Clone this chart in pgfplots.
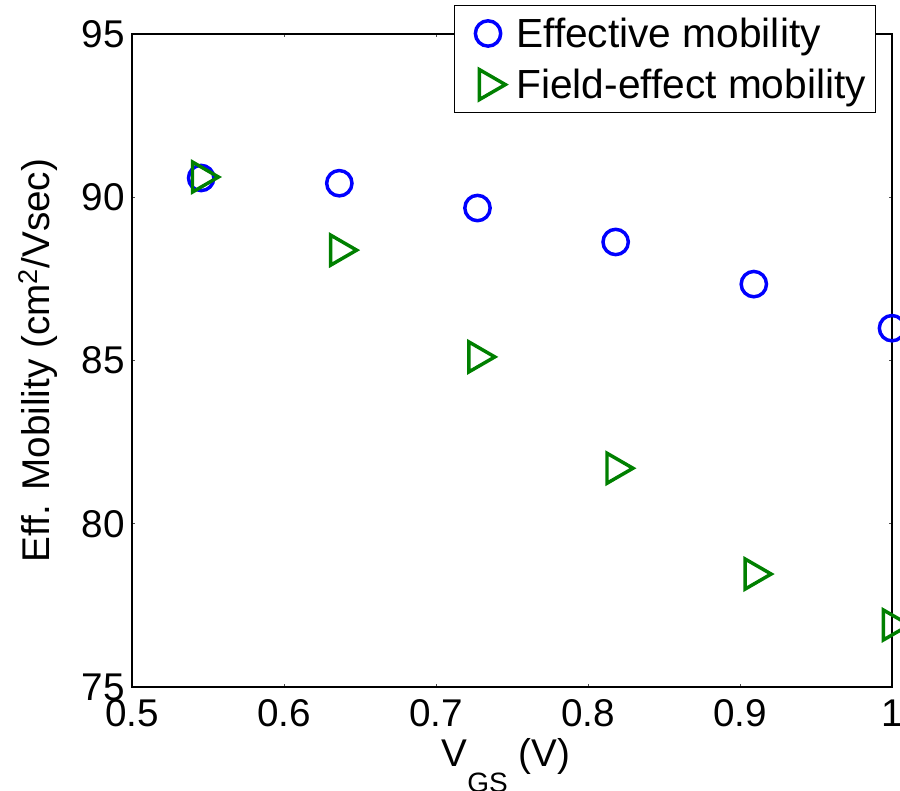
\documentclass[border=0pt]{standalone}
\usepackage{pgfplots}
\pgfplotsset{compat=1.18}
\usepackage{fontspec}
\setmainfont{Liberation Sans}
\definecolor{mblue}{RGB}{0,0,255}
\definecolor{mgreen}{RGB}{0,128,0}
\begin{document}
\begin{tikzpicture}[font=\fontsize{29}{34}\selectfont]
\begin{axis}[
  scale only axis,
  width=570pt, height=489.75pt,
  xmin=0.5, xmax=1, ymin=75, ymax=95,
  xtick={0.5,0.6,0.7,0.8,0.9,1},
  xticklabels={0.5,0.6,0.7,0.8,0.9,1},
  ytick={75,80,85,90,95},
  /pgf/number format/assume math mode=true,
  tick align=inside,
  major tick length=2.5pt,
  tick style={line width=0.6pt, color=black!70},
  axis line style={line width=1.5pt},
  xticklabel style={anchor=base, inner sep=0pt, yshift=-29.25pt},
  yticklabel style={anchor=east, inner sep=0pt, xshift=-5.25pt},
  xlabel={V\raisebox{-19pt}{\fontsize{21}{24}\selectfont GS} (V)},
  ylabel={Eff. Mobility (cm\textsuperscript{2}/Vsec)},
  xlabel style={at={(axis description cs:0.492,-0.1225)}, anchor=base, inner sep=0pt},
  ylabel style={at={(axis description cs:-0.108,0.5)}, anchor=base, inner sep=0pt, rotate=0},
  legend style={at={(axis description cs:1,1)}, anchor=north east,
    xshift=-12pt, yshift=21.75pt, draw=black, line width=1.1pt,
    inner xsep=3pt, inner ysep=5pt, row sep=6.75pt,
    font=\fontsize{30.5}{36}\selectfont,
    nodes={inner sep=4pt}},
  legend cell align=left,
  legend image code/.code={%
    \path[draw=none,fill=none] (0pt,-6pt) rectangle (39.5pt,6pt);
    \draw[mark repeat=2,mark phase=2] plot coordinates {(12.25pt,0pt) (22.25pt,0pt) (32.25pt,0pt)};},
]
\addplot[only marks, mark=o, mark size=9.5pt, mblue, line width=2.6pt]
  coordinates {(0.5455,90.59) (0.6364,90.43) (0.7273,89.67) (0.8182,88.63) (0.9091,87.34) (1.0,85.99)};
\addlegendentry{Effective mobility}
\addplot[only marks, mark=triangle, mark size=13pt, mgreen, line width=2.6pt, mark options={rotate=-90}]
  coordinates {(0.5455,90.62) (0.6364,88.38) (0.7273,85.11) (0.8182,81.70) (0.9091,78.46) (1.0,76.90)};
\addlegendentry{Field-effect mobility}
\end{axis}
\pgfresetboundingbox
\path (-99pt,-77.25pt) rectangle (576pt,515.25pt);
\end{tikzpicture}
\end{document}
